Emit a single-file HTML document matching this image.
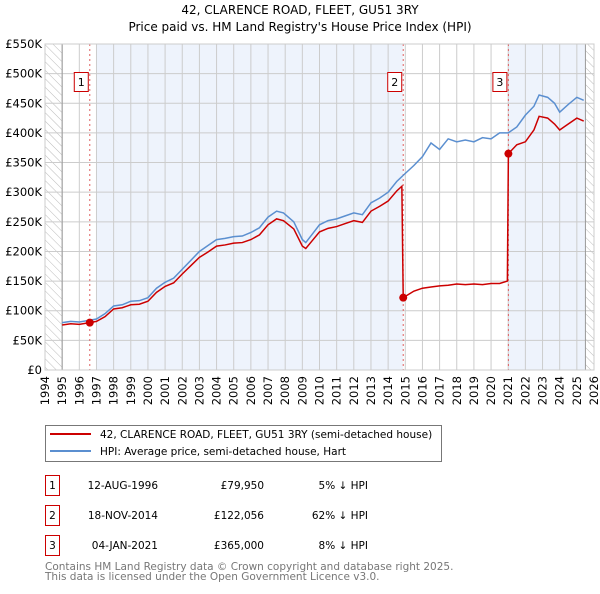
<!DOCTYPE html>
<html><head><meta charset="utf-8"><style>
body{margin:0;background:#fff;width:600px;height:590px;overflow:hidden;font-family:"DejaVu Sans","Liberation Sans",sans-serif}
svg text{font-family:"DejaVu Sans","Liberation Sans",sans-serif}
</style></head><body>
<svg id="c" width="600" height="590" xmlns="http://www.w3.org/2000/svg">
<defs><pattern id="hatch" width="6" height="6" patternUnits="userSpaceOnUse" patternTransform="rotate(-45)"><line x1="0" y1="0" x2="0" y2="6" stroke="#bbb" stroke-width="1"/></pattern></defs>
<text x="300" y="14" text-anchor="middle" font-size="12">42, CLARENCE ROAD, FLEET, GU51 3RY</text>
<text x="300" y="31" text-anchor="middle" font-size="12">Price paid vs. HM Land Registry's House Price Index (HPI)</text>
<g id="plot"></g>
<g>
<rect x="45.5" y="425.5" width="396" height="36" fill="#fff" stroke="#777"/>
<line x1="50" y1="434" x2="91" y2="434" stroke="#cc0000" stroke-width="2"/>
<text x="100" y="438" font-size="10.5">42, CLARENCE ROAD, FLEET, GU51 3RY (semi-detached house)</text>
<line x1="50" y1="451" x2="91" y2="451" stroke="#5b8fd0" stroke-width="2"/>
<text x="100" y="455" font-size="10.5">HPI: Average price, semi-detached house, Hart</text>
</g>
<g id="tbl" font-size="10.5"></g>
<text x="45" y="570" font-size="10.5" fill="#777">Contains HM Land Registry data © Crown copyright and database right 2025.</text>
<text x="45" y="580" font-size="10.5" fill="#777">This data is licensed under the Open Government Licence v3.0.</text>
</svg>
<script>
const hpiYears=[1995.0,1995.5,1996.0,1996.6,1997.0,1997.5,1998.0,1998.5,1999.0,1999.5,2000.0,2000.5,2001.0,2001.5,2002.0,2002.5,2003.0,2003.5,2004.0,2004.5,2005.0,2005.5,2006.0,2006.5,2007.0,2007.5,2007.9,2008.5,2009.0,2009.2,2009.6,2010.0,2010.5,2011.0,2011.5,2012.0,2012.5,2013.0,2013.5,2014.0,2014.5,2014.9,2015.5,2016.0,2016.5,2017.0,2017.5,2018.0,2018.5,2019.0,2019.5,2020.0,2020.5,2021.0,2021.5,2022.0,2022.5,2022.8,2023.3,2023.7,2024.0,2024.5,2025.0,2025.4];
const hpiValues=[80,82,81,84,86,95,108,110,116,117,122,138,148,155,170,185,200,210,220,222,225,226,232,240,258,268,265,250,220,215,230,245,252,255,260,265,262,282,290,300,318,329,345,360,383,372,390,385,388,385,392,390,400,400,410,430,445,464,460,450,435,448,460,455];
const redYears=[1995.0,1995.5,1996.0,1996.6,1997.0,1997.5,1998.0,1998.5,1999.0,1999.5,2000.0,2000.5,2001.0,2001.5,2002.0,2002.5,2003.0,2003.5,2004.0,2004.5,2005.0,2005.5,2006.0,2006.5,2007.0,2007.5,2007.9,2008.5,2009.0,2009.2,2009.6,2010.0,2010.5,2011.0,2011.5,2012.0,2012.5,2013.0,2013.5,2014.0,2014.5,2014.8,2014.88,2015.5,2016.0,2016.5,2017.0,2017.5,2018.0,2018.5,2019.0,2019.5,2020.0,2020.5,2020.95,2021.01,2021.5,2022.0,2022.5,2022.8,2023.3,2023.7,2024.0,2024.5,2025.0,2025.4];
const redValues=[76,78,77,79.95,82,90,103,105,110,111,116,131,141,147,162,176,190,199,209,211,214,215,220,228,245,255,252,238,209,205,219,233,239,242,247,252,249,268,276,285,302,310,122.056,133,138,140,142,143,145,144,145,144,146,146,150,365,380,385,405,428,425,415,405,415,425,420];
const salesYears=[1996.61,2014.88,2021.01];
const salesValues=[79.95,122.056,365];
const yTicks=[0,50,100,150,200,250,300,350,400,450,500,550];
const yTickLabels=["£0","£50K","£100K","£150K","£200K","£250K","£300K","£350K","£400K","£450K","£500K","£550K"];
const xTicks=[1994,1995,1996,1997,1998,1999,2000,2001,2002,2003,2004,2005,2006,2007,2008,2009,2010,2011,2012,2013,2014,2015,2016,2017,2018,2019,2020,2021,2022,2023,2024,2025,2026];
const tableDates=["12-AUG-1996","18-NOV-2014","04-JAN-2021"];
const tablePrices=["£79,950","£122,056","£365,000"];
const tableDiffs=["5% ↓ HPI","62% ↓ HPI","8% ↓ HPI"];

const NS="http://www.w3.org/2000/svg";
const L=45,R=594,T=44,B=370;
const X=y=>L+(y-1994)/32*(R-L);
const Y=v=>B-v/550*(B-T);
const g=document.getElementById('plot');
function mk(tag,a,parent){const e=document.createElementNS(NS,tag);for(const k in a)e.setAttribute(k,a[k]);(parent||g).appendChild(e);return e;}
let e;
e=mk('rect',{x:L,y:T,width:R-L,height:B-T,fill:'#fff'});


e=mk('rect',{x:X(1997),y:T,width:X(salesYears[1])-X(1997),height:B-T,fill:'#eef3fc'});


e=mk('rect',{x:X(salesYears[2]),y:T,width:X(2025.5)-X(salesYears[2]),height:B-T,fill:'#eef3fc'});


e=mk('rect',{x:L,y:T,width:X(1995)-L,height:B-T,fill:'url(#hatch)'});


e=mk('rect',{x:X(2025.5),y:T,width:R-X(2025.5),height:B-T,fill:'url(#hatch)'});


xTicks.forEach(t=>{
 e=mk('line',{x1:X(t),x2:X(t),y1:T,y2:B,stroke:'#ccc','stroke-width':1});
 
 
 e=mk('text',{x:X(t)+4,y:B+6,'font-size':11.5,transform:`rotate(-90 ${X(t)+4} ${B+6})`,'text-anchor':'end'});
 e.textContent=t;
 
 
});
yTicks.forEach((t,i)=>{
 e=mk('line',{x1:L,x2:R,y1:Y(t),y2:Y(t),stroke:'#ccc','stroke-width':1});
 
 
 e=mk('text',{x:L-3,y:Y(t)+4,'font-size':11.5,'text-anchor':'end'});
 e.textContent=yTickLabels[i];
 
 
});
e=mk('line',{x1:X(1995),x2:X(1995),y1:T,y2:B,stroke:'#999'});


e=mk('line',{x1:X(2025.5),x2:X(2025.5),y1:T,y2:B,stroke:'#999'});


salesYears.forEach((s,i)=>{
 e=mk('line',{x1:X(s),x2:X(s),y1:T,y2:B,stroke:'#e06060','stroke-dasharray':'2,3','stroke-width':1});
 
 
 e=mk('rect',{x:X(s)-15.5,y:72.5,width:14,height:19,fill:'#fff',stroke:'#cc0000'});
 
 
 e=mk('text',{x:X(s)-8.5,y:86,'font-size':11,'text-anchor':'middle'});
 e.textContent=i+1;
 
 
});
e=mk('polyline',{points:hpiYears.map((y,i)=>X(y)+','+Y(hpiValues[i])).join(' '),fill:'none',stroke:'#5b8fd0','stroke-width':1.5});


e=mk('polyline',{points:redYears.map((y,i)=>X(y)+','+Y(redValues[i])).join(' '),fill:'none',stroke:'#cc0000','stroke-width':1.5});


salesYears.forEach((s,i)=>{
 e=mk('circle',{cx:X(s),cy:Y(salesValues[i]),r:4,fill:'#cc0000'});
 
 
});
e=mk('rect',{x:L,y:T,width:R-L,height:B-T,fill:'none',stroke:'#ccc'});


const tb=document.getElementById('tbl');
tableDates.forEach((d,i)=>{
 const y0=475+i*30;
 e=mk('rect',{x:45.5,y:y0+0.5,width:14,height:20,fill:'#fff',stroke:'#cc0000'},tb);
 
 
 e=mk('text',{x:52.5,y:y0+14,'text-anchor':'middle'},tb);e.textContent=i+1;
 
 
 e=mk('text',{x:158,y:y0+14,'text-anchor':'end'},tb);e.textContent=d;
 
 
 e=mk('text',{x:264,y:y0+14,'text-anchor':'end'},tb);e.textContent=tablePrices[i];
 
 
 e=mk('text',{x:368,y:y0+14,'text-anchor':'end'},tb);e.textContent=tableDiffs[i];
 
 
});
</script>
</body></html>
